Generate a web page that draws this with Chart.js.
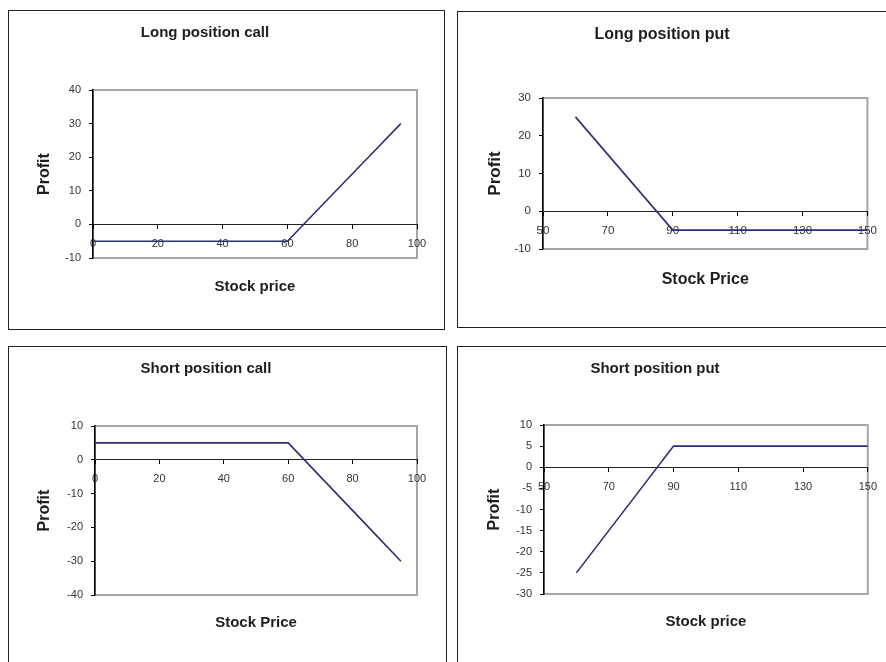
<!DOCTYPE html>
<html>
<head>
<meta charset="utf-8">
<script src="https://cdn.jsdelivr.net/npm/chart.js@4.4.1/dist/chart.umd.min.js"></script>
<style>
  html, body { margin: 0; padding: 0; background: #fff; width: 886px; height: 662px; overflow: hidden; position: relative; }
  .frame { position: absolute; border: 1px solid #222; box-sizing: border-box; }
  canvas { position: absolute; }
</style>
</head>
<body>
<div class="frame" style="left:8px;top:10px;width:437px;height:320px;"></div>
<div class="frame" style="left:457px;top:11px;width:440px;height:317px;"></div>
<div class="frame" style="left:8px;top:346px;width:439px;height:330px;"></div>
<div class="frame" style="left:457px;top:346px;width:440px;height:330px;"></div>

<canvas id="c1" width="450" height="317" style="left:-7px;top:11px;"></canvas>
<canvas id="c2" width="431" height="315" style="left:455px;top:12px;"></canvas>
<canvas id="c3" width="450" height="315" style="left:-5px;top:347px;"></canvas>
<canvas id="c4" width="447" height="315" style="left:439px;top:347px;"></canvas>

<script>
// ---------- data ----------
const chartTitles = ["Long position call", "Long position put", "Short position call", "Short position put"];
const xAxisTitles = ["Stock price", "Stock Price", "Stock Price", "Stock price"];
const yAxisTitle = "Profit";

const callPrices      = [0, 10, 20, 30, 40, 50, 60, 75, 85, 95];
const longCallProfit  = [-5, -5, -5, -5, -5, -5, -5, 10, 20, 30];
const shortCallProfit = [5, 5, 5, 5, 5, 5, 5, -10, -20, -30];

const putPrices       = [60, 70, 80, 90, 100, 110, 120, 130, 140, 150];
const longPutProfit   = [25, 15, 5, -5, -5, -5, -5, -5, -5, -5];
const shortPutProfit  = [-25, -15, -5, 5, 5, 5, 5, 5, 5, 5];

const callXTicks = { min: 0, max: 100, step: 20 };
const putXTicks  = { min: 50, max: 150, step: 20 };
const longCallYTicks  = { min: -10, max: 40, step: 10 };
const longPutYTicks   = { min: -10, max: 30, step: 10 };
const shortCallYTicks = { min: -40, max: 10, step: 10 };
const shortPutYTicks  = { min: -30, max: 10, step: 5 };

// ---------- rendering ----------
Chart.defaults.font.family = "'Liberation Sans', Arial, Helvetica, sans-serif";
Chart.defaults.color = '#333';

const plotFrame = {
  id: 'plotFrame',
  beforeDraw(chart) {
    const a = chart.chartArea, ctx = chart.ctx;
    ctx.save();
    ctx.strokeStyle = '#a6a6a6';
    ctx.lineWidth = 2;
    ctx.strokeRect(a.left, a.top, a.right - a.left, a.bottom - a.top);
    ctx.restore();
  }
};

function makeChart(id, xs, ys, xT, yT, title, xTitle, L) {
  new Chart(document.getElementById(id), {
    type: 'line',
    data: {
      datasets: [{
        data: xs.map((x, i) => ({ x: x, y: ys[i] })),
        borderColor: '#2e2e74',
        borderWidth: 1.6,
        pointRadius: 0,
        tension: 0,
        fill: false
      }]
    },
    options: {
      responsive: false,
      animation: false,
      events: [],
      layout: { padding: { left: 0, top: 0, right: L.right, bottom: 0 } },
      plugins: {
        legend: { display: false },
        tooltip: { enabled: false },
        title: {
          display: true, text: title, color: '#1e1e1e', fullSize: true,
          font: { size: L.tSize, weight: 'bold' },
          padding: { top: L.tTop, bottom: L.tBottom }
        },
        subtitle: {
          display: true, text: xTitle, color: '#1e1e1e', position: 'bottom', fullSize: false,
          font: { size: L.tSize, weight: 'bold' },
          padding: { top: L.sTop, bottom: L.sBottom }
        }
      },
      scales: {
        x: {
          type: 'linear',
          position: { y: 0 },
          min: xT.min, max: xT.max,
          ticks: { stepSize: xT.step, padding: 9, color: '#333', font: { size: L.fSize }, maxRotation: 0, autoSkip: false },
          grid: { drawOnChartArea: false, drawTicks: true, tickLength: 4, color: '#000', lineWidth: 1 },
          border: { display: true, color: '#222', width: 1 }
        },
        y: {
          type: 'linear',
          position: 'left',
          min: yT.min, max: yT.max,
          ticks: { stepSize: yT.step, padding: 8, color: '#333', font: { size: L.fSize } },
          grid: { drawOnChartArea: false, drawTicks: true, tickLength: 4, color: '#000', lineWidth: 1 },
          border: { display: true, color: '#000', width: 1.5 },
          title: {
            display: true, text: yAxisTitle, color: '#1e1e1e',
            font: { size: L.pSize, weight: 'bold' },
            padding: { top: L.pTop, bottom: 0 }
          },
          afterFit(scale) { scale.width = L.yWidth; }
        }
      }
    },
    plugins: [plotFrame]
  });
}

makeChart('c1', callPrices, longCallProfit, callXTicks, longCallYTicks, chartTitles[0], xAxisTitles[0],
  { right: 26, yWidth: 100, tSize: 15, tTop: 13, tBottom: 48, sTop: 20, sBottom: 32, pSize: 16, pTop: 42.4, fSize: 11 });
makeChart('c2', putPrices, longPutProfit, putXTicks, longPutYTicks, chartTitles[1], xAxisTitles[1],
  { right: 17, yWidth: 88, tSize: 16, tTop: 13.4, tBottom: 53.4, sTop: 21.4, sBottom: 37.4, pSize: 17, pTop: 29.8, fSize: 11.5 });
makeChart('c3', callPrices, shortCallProfit, callXTicks, shortCallYTicks, chartTitles[2], xAxisTitles[2],
  { right: 28, yWidth: 100, tSize: 15, tTop: 13, tBottom: 48, sTop: 19, sBottom: 30, pSize: 16, pTop: 40.4, fSize: 11 });
makeChart('c4', putPrices, shortPutProfit, putXTicks, shortPutYTicks, chartTitles[3], xAxisTitles[3],
  { right: 15, yWidth: 105, tSize: 15, tTop: 13, tBottom: 47, sTop: 19, sBottom: 31, pSize: 16, pTop: 46.4, fSize: 11 });
</script>
</body>
</html>
